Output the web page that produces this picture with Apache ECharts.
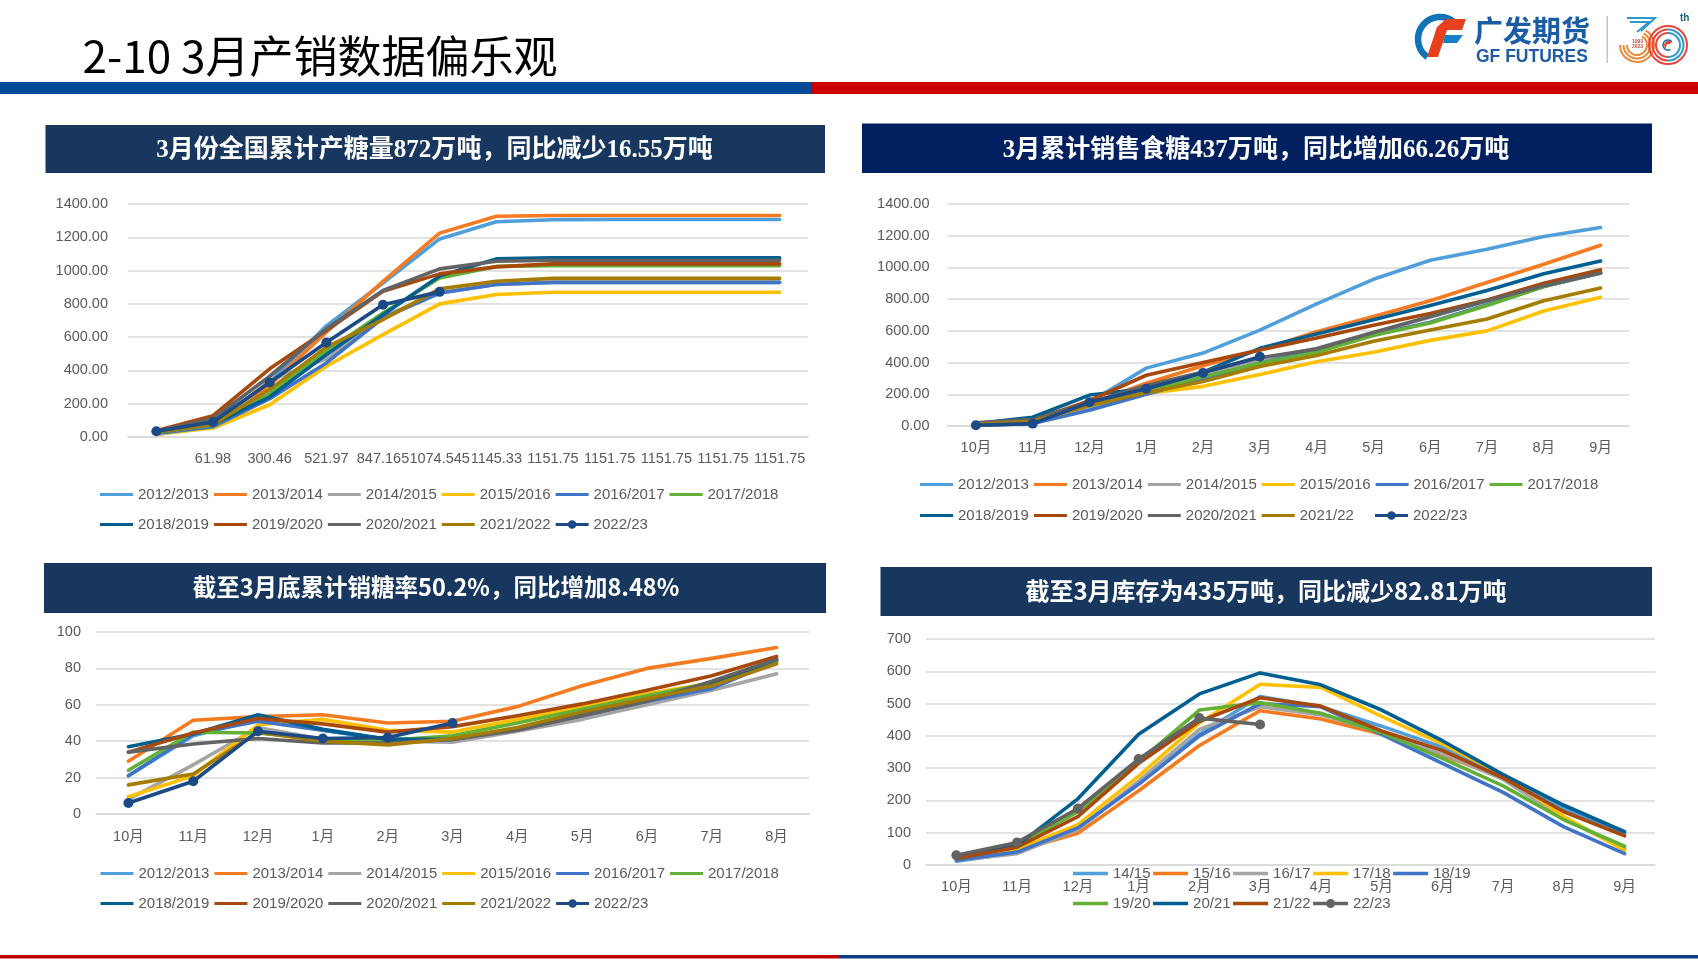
<!DOCTYPE html>
<html><head><meta charset="utf-8">
<style>html,body{margin:0;padding:0;background:#fff}#c{width:1698px;height:960px}</style>
<script src="https://cdn.jsdelivr.net/npm/echarts@6/dist/echarts.min.js"></script>
</head><body><div id="c"></div>
<script>
// ---------- data ----------
const prodTicks = ['', '61.98', '300.46', '521.97', '847.165', '1074.545', '1145.33', '1151.75', '1151.75', '1151.75', '1151.75', '1151.75'];
const months12 = ['10月','11月','12月','1月','2月','3月','4月','5月','6月','7月','8月','9月'];
const months11 = ['10月','11月','12月','1月','2月','3月','4月','5月','6月','7月','8月'];

const prod1213 = [20,70,330,668,925,1190,1293,1305,1307,1307,1307,1307];
const prod1314 = [25,85,310,630,935,1225,1326,1331,1331,1331,1331,1331];
const prod1415 = [15,60,340,470,725,865,916,929,929,929,929,929];
const prod1516 = [18,54,194,425,615,800,856,870,870,870,870,870];
const prod1617 = [22,62,230,445,715,865,916,929,929,929,929,929];
const prod1718 = [25,72,260,515,745,955,1025,1030,1030,1030,1030,1030];
const prod1819 = [28,78,240,495,735,968,1070,1076,1076,1076,1076,1076];
const prod1920 = [38,128,410,640,875,980,1022,1040,1040,1040,1040,1040];
const prod2021 = [35,110,365,650,880,1010,1056,1062,1062,1062,1062,1062];
const prod2122 = [30,75,285,540,705,890,936,953,953,953,953,953];
const prod2223 = [35,90,328,568,795,872];

const sale1213 = [10,45,150,365,460,605,770,925,1045,1115,1195,1252];
const sale1314 = [5,20,140,270,380,480,595,690,790,905,1020,1140];
const sale1415 = [5,15,110,215,310,420,490,590,685,790,880,965];
const sale1516 = [5,25,130,205,250,325,405,465,540,600,725,812];
const sale1617 = [5,15,100,200,300,395,480,575,655,765,880,965];
const sale1718 = [10,30,130,220,310,395,465,570,650,760,880,970];
const sale1819 = [15,55,195,235,340,490,580,670,760,855,960,1040];
const sale1920 = [10,35,160,320,400,480,555,635,710,795,900,985];
const sale2021 = [20,40,145,255,340,430,485,590,690,790,885,965];
const sale2122 = [10,30,130,210,280,375,445,535,605,675,790,870];
const sale2223 = [5,15,150,235,335,437];

const rate1213 = [21,43,52,46,41,40,46,53,61,69,84];
const rate1314 = [29,51.5,53.5,54.5,50,51,59,70.5,80,85.5,91.5];
const rate1415 = [8,27,47.5,41,40,39.5,45.5,52,60,68,77];
const rate1516 = [9.5,21,49,52,46,45,52,59,66,72,83];
const rate1617 = [21,44,51,46,41,41,47,54,62,69,84];
const rate1718 = [24,45,44.5,41,40.5,43,50,57.5,65,72,84];
const rate1819 = [37,44,54.5,46.5,41,41,47,55,63,71,85];
const rate1920 = [34,44.5,52.5,49.5,45,48,54,60.5,68,76,86.5];
const rate2021 = [34,38.5,41.5,39,39,41,46,54,62,73,85];
const rate2122 = [16,22,45,40,38,41.5,47.5,56,63.5,70.5,82.5];
const rate2223 = [6,18,45.5,41.5,42,50];

const stock1415 = [12,38,110,255,405,522,490,430,365,275,175,95];
const stock1516 = [22,45,98,230,370,478,452,405,340,270,145,50];
const stock1617 = [15,35,110,260,420,490,465,410,345,265,145,50];
const stock1718 = [20,50,125,275,440,560,550,460,375,280,150,45];
const stock1819 = [15,40,115,250,400,500,490,405,315,225,118,35];
const stock1920 = [25,60,165,320,480,503,470,410,330,245,140,58];
const stock2021 = [25,60,205,405,530,595,558,480,385,280,185,103];
const stock2122 = [20,55,150,315,445,518,492,415,355,270,165,90];
const stock2223 = [30,70,175,328,455,435];

const yearNames = ['2012/2013','2013/2014','2014/2015','2015/2016','2016/2017','2017/2018','2018/2019','2019/2020','2020/2021'];
const yearNamesShort = ['14/15','15/16','16/17','17/18','18/19','19/20','20/21','21/22','22/23'];
// ---------- style ----------
const PAL = ['#4E9FDB','#F57A20','#A5A5A5','#FFC000','#3F74C9','#62B136','#005F91','#A8480B','#636363','#A67C00','#1B4A87'];
const PAL4 = ['#4E9FDB','#F57A20','#A5A5A5','#FFC000','#3F74C9','#62B136','#005F91','#A8480B','#636363'];
const TXT = '#595959';
const FONT = '"Liberation Sans","Noto Sans CJK SC",sans-serif';
// legend glyphs: a bar, with corner points that hold the full icon box; the last also has a dot
const BOX = 'M0,0L0,0M35,10L35,10';
const ICON_LINE = 'path://' + BOX + 'M0,3.3H35V6.7H0Z';
const ICON_DOT = 'path://' + BOX + 'M0,3.3H35V6.7H0ZM13,5a4.5,4.5 0 1,1 9,0a4.5,4.5 0 1,1 -9,0Z';

const grids = [], xAxes = [], yAxes = [], series = [], legends = [];
function addChart(i, box, cats, yCfg, names, datas, colors, labelM, axisM, leg) {
  grids.push({left:box[0], top:box[1], width:box[2]-box[0], height:box[3]-box[1]});
  xAxes.push({type:'category', gridIndex:i, data:cats, boundaryGap:true,
    axisTick:{show:false}, axisLine:{show:true,lineStyle:{color:'#D9D9D9',width:1.5}},
    axisLabel:{interval:0, color:TXT, fontSize:14.5, fontFamily:FONT, margin:axisM, hideOverlap:false}});
  yAxes.push({type:'value', gridIndex:i, min:yCfg.min, max:yCfg.max, interval:yCfg.interval,
    axisLine:{show:false}, axisTick:{show:false},
    splitLine:{lineStyle:{color:'#D9D9D9',width:1.5}},
    axisLabel:{color:TXT, fontSize:14.5, fontFamily:FONT, margin:labelM,
      formatter:v=>yCfg.dec?v.toFixed(yCfg.dec):String(v)}});
  names.forEach((n,k)=>{
    const last = k===names.length-1;
    series.push({name:n, type:'line', xAxisIndex:i, yAxisIndex:i, data:datas[k],
      smooth:false, animation:false, silent:true,
      symbol:last?'circle':'none', symbolSize:10, showSymbol:last,
      lineStyle:{color:colors[k], width:3.6, cap:'round', join:'round'},
      itemStyle:{color:colors[k]}});
  });
  leg.rows.forEach(r=>{
    legends.push({show:true, left:r.x, top:r.y-5, orient:'horizontal', padding:0,
      itemWidth:leg.w, itemHeight:10, itemGap:leg.gap, selectedMode:false,
      data:r.items.map(name=>({name, icon: name===names[names.length-1]?ICON_DOT:ICON_LINE})),
      textStyle:{color:TXT, fontSize:15, fontFamily:FONT}});
  });
}
const n1 = yearNames.concat(['2021/2022','2022/23']);
const n2 = yearNames.concat(['2021/22','2022/23']);
addChart(0,[128,204,808,437],prodTicks,{min:0,max:1400,interval:200,dec:2},n1,
  [prod1213,prod1314,prod1415,prod1516,prod1617,prod1718,prod1819,prod1920,prod2021,prod2122,prod2223],PAL,20,15,
  {w:33,gap:5,rows:[{x:100,y:492,items:n1.slice(0,6)},{x:100,y:522,items:n1.slice(6)}]});
addChart(1,[947.5,204,1629,426],months12,{min:0,max:1400,interval:200,dec:2},n2,
  [sale1213,sale1314,sale1415,sale1516,sale1617,sale1718,sale1819,sale1920,sale2021,sale2122,sale2223],PAL,18,15,
  {w:33,gap:5,rows:[{x:920,y:482,items:n2.slice(0,6)},{x:920,y:513,items:n2.slice(6,10)},{x:1375,y:513,items:n2.slice(10)}]});
addChart(2,[96,632,809,814],months11,{min:0,max:100,interval:20,dec:0},n1,
  [rate1213,rate1314,rate1415,rate1516,rate1617,rate1718,rate1819,rate1920,rate2021,rate2122,rate2223],PAL,15,16,
  {w:33,gap:5,rows:[{x:100.5,y:871,items:n1.slice(0,6)},{x:100.5,y:901,items:n1.slice(6)}]});
addChart(3,[926,639,1655,865],months12,{min:0,max:700,interval:100,dec:0},yearNamesShort,
  [stock1415,stock1516,stock1617,stock1718,stock1819,stock1920,stock2021,stock2122,stock2223],PAL4,15,15,
  {w:35,gap:2.5,rows:[{x:1073,y:871,items:yearNamesShort.slice(0,5)},{x:1073,y:901,items:yearNamesShort.slice(5)}]});

// ---------- page furniture ----------
const rect=(x,y,w,h,c)=>({type:'rect',shape:{x,y,width:w,height:h},style:{fill:c},silent:true});
const arc=(cx,cy,r,a,b,c,lw,ccw)=>({type:'arc',shape:{cx,cy,r,startAngle:a*Math.PI/180,endAngle:b*Math.PI/180,clockwise:!ccw},style:{stroke:c,lineWidth:lw,fill:'none'},silent:true});
const poly=(pts,c)=>({type:'polygon',shape:{points:pts},style:{fill:c},silent:true});
const pline=(pts,c,lw)=>({type:'polyline',shape:{points:pts},style:{stroke:c,lineWidth:lw,fill:'none'},silent:true});
const txt=(s,x,y,font,c,extra)=>({type:'text',x,y,style:Object.assign({text:s,font,fill:c,align:'left',verticalAlign:'middle'},extra||{}),silent:true});

const graphic = [
  rect(0,82,812,12,'#004B97'), rect(812,82,886,12,'#CC0000'),
  rect(0,955,840,3.5,'#C00000'), rect(840,955,858,3.5,'#0B3C7D'),
  rect(45.5,125,779.5,48,'#17375E'), rect(862,123.5,790,49.5,'#002060'),
  rect(44,563,782,50,'#17375E'), rect(880.5,567,771.5,49,'#17375E'),
  // GF logo
  arc(1440,39,22,-50,-235,'#0F73B8',6.5,true),
  poly([[1466,19],[1462,30],[1447,30],[1438,57],[1427,57],[1437,27],[1446,19]],'#E8401C'),
  poly([[1445,35],[1463,35],[1457,43],[1443,43]],'#1480C6'),
  txt('广发期货',1474,31,'bold 29px "Noto Sans CJK SC"','#1A5CA5'),
  txt('GF FUTURES',1476,57,'bold 17.5px "Liberation Sans"','#1A5CA5'),
  rect(1606.5,16,1.5,47,'#B5C7D6'),
  // 30th mark
  pline([[1627,18],[1655,18],[1641,31]],'#2C9BC7',2),
  pline([[1630,22],[1649,22],[1637,32]],'#2C9BC7',2),
  arc(1637,45,17,-60,180,'#E98A3A',2), arc(1637,45,13.5,-60,180,'#E98A3A',2), arc(1637,45,10,-60,180,'#E98A3A',2),
  arc(1668,45,19,90,270,'#E8453C',2), arc(1668,45,15.5,90,270,'#E8453C',2), arc(1668,45,12,90,270,'#E8453C',2),
  arc(1668,45,19,-90,90,'#E8453C',2), arc(1668,45,15.5,-90,90,'#2C9BC7',2), arc(1668,45,12,-90,90,'#2C9BC7',2),
  txt('1993',1632,42,'bold 5px "Liberation Sans"','#C0503C'),
  txt('2023',1632,47,'bold 5px "Liberation Sans"','#C0503C'),
  arc(1668,45,5,-40,-300,'#0F73B8',1.5,true),
  poly([[1672,41],[1670,44],[1667,44],[1665,50],[1664,44],[1667,41]],'#E8401C'),
  txt('th',1680,18.5,'bold 10px "Liberation Sans"','#1A5C70'),
];

const serif = '"Liberation Serif","Noto Sans CJK SC",serif';
const sans = '"Noto Sans CJK SC",sans-serif';
const head = (text,x,y,fam,size,color,weight) => ({text,left:x,top:y,textAlign:'center',textVerticalAlign:'middle',padding:0,
  textStyle:{color:color,fontSize:size,fontWeight:weight,fontFamily:fam}});
const titles = [
  head('2-10 3月产销数据偏乐观',320,56,sans,44,'#000','normal'),
  head('3月份全国累计产糖量872万吨，同比减少16.55万吨',434.5,151,serif,25,'#fff','bold'),
  head('3月累计销售食糖437万吨，同比增加66.26万吨',1256,151,serif,25,'#fff','bold'),
  head('截至3月底累计销糖率50.2%，同比增加8.48%',436,587,sans,23.5,'#fff','bold'),
  head('截至3月库存为435万吨，同比减少82.81万吨',1266,591,sans,24,'#fff','bold'),
];

const chart = echarts.init(document.getElementById('c'),null,{renderer:'canvas'});
chart.setOption({backgroundColor:'#fff',animation:false,title:titles,grid:grids,xAxis:xAxes,yAxis:yAxes,series:series,legend:legends,graphic:graphic});
</script></body></html>
